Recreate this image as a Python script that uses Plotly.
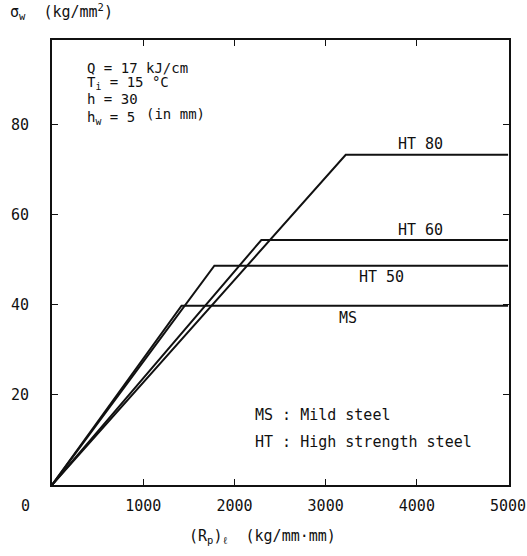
import plotly.graph_objects as go

# Data
materials = ["MS", "HT 50", "HT 60", "HT 80"]
yield_rp = [1420, 1780, 2295, 3220]        # (Rp)l at which plateau starts
sigma_w = [39.8, 48.7, 54.4, 73.3]          # plateau strength kg/mm2
rp_end = 5000

x_ticks = [0, 1000, 2000, 3000, 4000, 5000]
x_ticktext = ["", "1000", "2000", "3000", "4000", "5000"]
y_ticks = [20, 40, 60, 80]

label_pos_x = [3240, 3610, 4040, 4040]
label_pos_y = [37.1, 46.2, 56.7, 75.6]

FONT = "DejaVu Sans Mono"
BLACK = "#111111"

fig = go.Figure()
for name, xr, sy in zip(materials, yield_rp, sigma_w):
    fig.add_trace(go.Scatter(
        x=[0, xr, rp_end], y=[0, sy, sy], mode="lines", name=name,
        line=dict(color=BLACK, width=2), showlegend=False, hoverinfo="skip"))

for name, lx, ly in zip(materials, label_pos_x, label_pos_y):
    fig.add_annotation(x=lx, y=ly, text=name, showarrow=False,
                       font=dict(family=FONT, size=15, color=BLACK),
                       xanchor="center", yanchor="middle")

# parameter block
params = [("Q = 17 kJ/cm", 92.6), ("T<sub>i</sub> = 15 °C", 89.2),
          ("h = 30", 85.6), ("h<sub>w</sub> = 5", 81.4)]
for txt, yy in params:
    fig.add_annotation(x=360, y=yy, text=txt, showarrow=False, xanchor="left",
                       yanchor="middle", font=dict(family=FONT, size=14, color=BLACK))
fig.add_annotation(x=1010, y=82.4, text="(in mm)", showarrow=False, xanchor="left",
                   yanchor="middle", font=dict(family=FONT, size=14, color=BLACK))

# key
fig.add_annotation(x=2200, y=15.6, text="MS : Mild steel", showarrow=False,
                   xanchor="left", yanchor="middle",
                   font=dict(family=FONT, size=15, color=BLACK))
fig.add_annotation(x=2200, y=9.6, text="HT : High strength steel", showarrow=False,
                   xanchor="left", yanchor="middle",
                   font=dict(family=FONT, size=15, color=BLACK))

# origin label
fig.add_annotation(x=0, y=0, text="0", showarrow=False, xanchor="center", yanchor="top",
                   xshift=-27, yshift=-10, font=dict(family=FONT, size=15, color=BLACK))

# axis titles
fig.add_annotation(xref="paper", yref="paper", x=-0.097, y=1.035, xanchor="left",
                   yanchor="bottom", showarrow=False,
                   text="σ<sub>w</sub>  (kg/mm<sup>2</sup>)",
                   font=dict(family=FONT, size=15, color=BLACK))
fig.add_annotation(xref="paper", yref="paper", x=0.46, y=-0.115, xanchor="center",
                   yanchor="middle", showarrow=False,
                   text="(R<sub>p</sub>)<sub>ℓ</sub>  (kg/mm·mm)",
                   font=dict(family=FONT, size=15, color=BLACK))

fig.update_xaxes(range=[0, 5010], tickvals=x_ticks, ticktext=x_ticktext,
                 ticks="inside", ticklen=6, tickwidth=1, tickcolor=BLACK,
                 showline=True, linecolor=BLACK, linewidth=2, mirror="allticks",
                 showgrid=False, zeroline=False, ticklabelstandoff=6,
                 ticklabeloverflow="allow", automargin=False,
                 tickfont=dict(family=FONT, size=15, color=BLACK))
fig.update_yaxes(range=[0, 98.8], tickvals=y_ticks,
                 ticks="inside", ticklen=6, tickwidth=1, tickcolor=BLACK,
                 showline=True, linecolor=BLACK, linewidth=2, mirror="allticks",
                 showgrid=False, zeroline=False, ticklabelstandoff=18,
                 automargin=False,
                 tickfont=dict(family=FONT, size=15, color=BLACK))

fig.update_layout(width=527, height=556, margin=dict(l=52, r=18, t=40, b=71),
                  paper_bgcolor="white", plot_bgcolor="white", showlegend=False)

fig.write_html("out.html")
